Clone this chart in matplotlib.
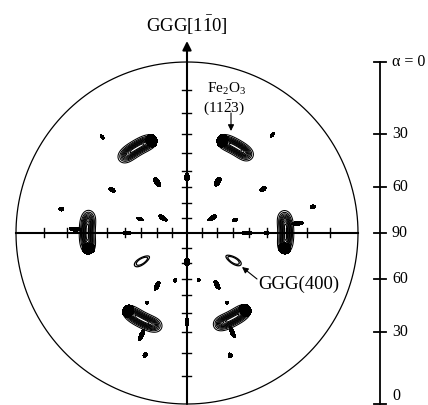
import numpy as np
import matplotlib

matplotlib.use("Agg")
import matplotlib.pyplot as plt

plt.rcParams["font.family"] = ["Liberation Serif", "DejaVu Serif"]
plt.rcParams["mathtext.fontset"] = "custom"
plt.rcParams["mathtext.rm"] = "Liberation Serif"
plt.rcParams["mathtext.it"] = "Liberation Serif:italic"

# --- pole figure data (phi: azimuth clockwise from GGG[1-10], psi: tilt) ---
# Fe2O3 (11-23) poles: dark end and tail of each elongated peak
FE_PSI = [60, 60, 59, 59.5, 60.5, 60]
FE_PHI_DARK = [18, 102, 140, 220, 258, 342]
FE_PHI_TAIL = [41, 77, 164, 195, 283, 317]

# spurs sticking out of the Fe2O3 peaks
SPUR_PHI = [272, 85, 204, 155.5]
SPUR_PSI = [66.4, 66, 66.2, 65]

# small substrate / satellite spots (sizes in reference pixels: radial length, width)
SPOT_PHI = [318.5, 41, 329.5, 31, 300, 60, 0, 280.8, 78.3, 286.6, 302, 59, 74.8,
            270, 90, 90, 180, 209.5, 150, 194, 166, 210, 150, 180, 199, 160.6]
SPOT_PSI = [73.7, 74.5, 38, 38.5, 53.7, 54.4, 36, 73.6, 73.9, 32, 18.7, 19.4, 32.5,
            38.6, 38.6, 50, 19.2, 39, 38.6, 31.7, 31.7, 50.4, 50.4, 55, 74, 74.4]
SPOT_LEN = [5, 6, 10, 10, 7, 7, 8, 5, 5, 7, 10, 10, 6,
            9, 10, 5, 8, 10, 10, 4, 3, 3, 3, 8, 5, 5]
SPOT_WID = [3, 3, 5, 5, 4, 4, 5, 4, 4, 3, 4, 4, 3,
            4, 4, 4, 5, 4, 4, 3, 3, 3, 3, 4, 4, 4]

# GGG(400) poles drawn as open contours
G400_PHI = [238, 120.4]
G400_PSI = [34.5, 35]

TICK_PSI = [10, 20, 30, 40, 50, 60, 70, 80]
SCALE_ALPHA = [0, 30, 60, 90, 60, 30, 0]
SCALE_SIDE = [1, 1, 1, 1, -1, -1, -1]
SCALE_TEXT = ["\u03b1 = 0", "30", "60", "90", "60", "30", "0"]

PX = 1 / 171.0  # one reference pixel in units of the projection radius
CX, CY = 187, 233


def px(x, y):
    return (x - CX) * PX, (CY - y) * PX


def stereo(psi):
    return np.tan(np.radians(np.asarray(psi, dtype=float)) / 2)


def wrap(a):
    return (a + 180) % 360 - 180


g = np.linspace(-1.05, 1.05, 1000)
X, Y = np.meshgrid(g, g)
RHO = np.hypot(X, Y)
ANG = np.degrees(np.arctan2(X, Y))


def spot(phi, psi, length, width):
    r0 = stereo(psi)
    dr = RHO - r0
    dt = np.radians(wrap(ANG - phi)) * r0
    return np.exp(-np.log(2) * ((dr / (length / 2 * PX)) ** 2 + (dt / (width / 2 * PX)) ** 2))


fig = plt.figure(figsize=(4.28, 4.05), dpi=100)
ax = fig.add_axes([0, 0, 1, 1])
ax.set_xlim(-CX * PX, (428 - CX) * PX)
ax.set_ylim((CY - 405) * PX, CY * PX)
ax.set_aspect("equal")
ax.axis("off")

# Fe2O3 peaks: nested contours plus a filled dark end
fe_field = np.zeros_like(X)
dark_field = np.zeros_like(X)
for psi, pd, pt in zip(FE_PSI, FE_PHI_DARK, FE_PHI_TAIL):
    r0 = stereo(psi)
    mid = pd + wrap(pt - pd) / 2
    half = abs(wrap(pt - pd)) / 2
    dt = np.radians(wrap(ANG - mid)) / np.radians(half)
    dr = (RHO - r0) / (8 * PX)
    fe_field += np.exp(-np.log(12) * (dt ** 4 + dr ** 2))
    dark_field += spot(pd + np.sign(wrap(pt - pd)) * 3, psi, 13, 11)
for phi, psi in zip(SPUR_PHI, SPUR_PSI):
    dark_field += spot(phi, psi, 12, 4)

ax.contour(X, Y, fe_field,
           levels=[0.08, 0.17, 0.27, 0.37, 0.47, 0.57, 0.67, 0.77, 0.87, 0.95],
           colors="k", linewidths=0.75)
ax.contourf(X, Y, dark_field, levels=[0.5, 10], colors="k")

spot_field = np.zeros_like(X)
for phi, psi, ln, wd in zip(SPOT_PHI, SPOT_PSI, SPOT_LEN, SPOT_WID):
    spot_field += spot(phi, psi, ln, wd)
ax.contourf(X, Y, spot_field, levels=[0.5, 10], colors="k")

g400_field = np.zeros_like(X)
for phi, psi in zip(G400_PHI, G400_PSI):
    g400_field += spot(phi, psi, 15, 6)
ax.contour(X, Y, g400_field, levels=[0.4, 0.6], colors="k", linewidths=0.9)

# projection circle and reference axes
t = np.linspace(0, 2 * np.pi, 400)
ax.plot(np.cos(t), np.sin(t), color="k", lw=0.9)
ax.plot([-1, 1], [0, 0], color="k", lw=1.5)
ax.annotate("", xy=(0, px(0, 41)[1]), xytext=(0, -1),
            arrowprops=dict(arrowstyle="-|>", lw=1.5, color="k",
                            mutation_scale=13, shrinkA=0, shrinkB=0))

tk = 4.5 * PX
for r in stereo(TICK_PSI):
    for s in (1, -1):
        ax.plot([s * r, s * r], [-tk, tk], color="k", lw=1.0)
        ax.plot([-tk, tk], [s * r, s * r], color="k", lw=1.0)

# alpha scale on the right
sx = px(380, 0)[0]
ax.plot([sx, sx], [-1, 1], color="k", lw=1.3)
for a, side, lab in zip(SCALE_ALPHA, SCALE_SIDE, SCALE_TEXT):
    y = side * np.tan(np.radians(90 - a) / 2)
    ax.plot([sx - 6 * PX, sx + 6 * PX], [y, y], color="k", lw=1.3)
    ty = max(y, px(0, 396)[1])
    ax.text(px(392, 0)[0], ty, lab, ha="left", va="center", fontsize=11.5)

# labels
ax.text(*px(187, 25), r"GGG[1$\bar{\mathrm{1}}$0]", ha="center", va="center", fontsize=13.5)
ax.text(*px(227, 89), r"Fe$_\mathrm{2}$O$_\mathrm{3}$", ha="center", va="center", fontsize=11)
ax.text(*px(224, 108), r"(11$\bar{\mathrm{2}}$3)", ha="center", va="center", fontsize=11)
ax.annotate("", xy=px(231, 131), xytext=px(231, 113),
            arrowprops=dict(arrowstyle="-|>", lw=0.8, color="k",
                            mutation_scale=9, shrinkA=0, shrinkB=0))
ax.text(*px(258, 284), "GGG(400)", ha="left", va="center", fontsize=13.5)
ax.annotate("", xy=px(242, 267), xytext=px(257, 279),
            arrowprops=dict(arrowstyle="-|>", lw=0.8, color="k",
                            mutation_scale=9, shrinkA=0, shrinkB=0))

fig.savefig("out.png", dpi=100)
